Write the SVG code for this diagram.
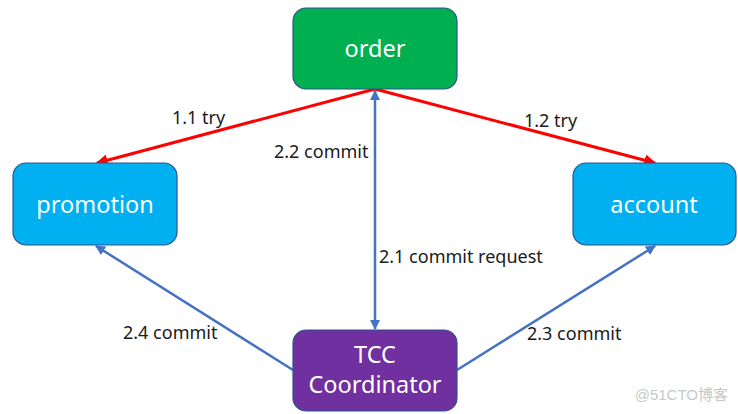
<svg xmlns="http://www.w3.org/2000/svg" width="738" height="414" viewBox="0 0 738 414">
<style>
.box{stroke:#2F528F;stroke-width:1.2}
.nt{font-family:"Noto Sans","Liberation Sans",sans-serif;font-size:23.5px;fill:#fff;text-anchor:middle}
.lb{font-family:"Noto Sans","Liberation Sans",sans-serif;font-size:18px;fill:#1a1a1a}
.red{stroke:#FF0000;stroke-width:3;fill:none}
.blue{stroke:#4472C4;stroke-width:2.5;fill:none}
</style>
<defs>
<marker id="ar" viewBox="0 0 10 10" refX="9" refY="5" markerWidth="4" markerHeight="4" orient="auto-start-reverse" markerUnits="strokeWidth"><path d="M0,0 L10,5 L0,10 z" fill="#FF0000"/></marker>
<marker id="ab" viewBox="0 0 10 10" refX="9" refY="5" markerWidth="4" markerHeight="4" orient="auto-start-reverse" markerUnits="strokeWidth"><path d="M0,0 L10,5 L0,10 z" fill="#4472C4"/></marker>
</defs>
<rect width="738" height="414" fill="#fff"/>
<g id="connectors">
<line class="red" x1="375" y1="89" x2="97" y2="163" marker-end="url(#ar)"/>
<line class="red" x1="375" y1="89" x2="655" y2="163" marker-end="url(#ar)"/>
<line class="blue" x1="375" y1="91" x2="375" y2="329" marker-start="url(#ab)" marker-end="url(#ab)"/>
<line class="blue" x1="293" y1="370" x2="96" y2="246" marker-end="url(#ab)"/>
<line class="blue" x1="457" y1="370" x2="655" y2="246" marker-end="url(#ab)"/>
<text class="lb" x="172" y="124">1.1 try</text>
<text class="lb" x="524" y="127">1.2 try</text>
<text class="lb" x="274" y="158">2.2 commit</text>
<text class="lb" x="379" y="263">2.1 commit request</text>
<text class="lb" x="123" y="339">2.4 commit</text>
<text class="lb" x="527" y="340">2.3 commit</text>
</g>
<g id="order">
<rect class="box" x="293" y="8" width="164" height="81" rx="13" fill="#00B050"/>
<text class="nt" x="375" y="57">order</text>
</g>
<g id="promotion">
<rect class="box" x="13" y="163" width="164" height="82" rx="13" fill="#00B0F0"/>
<text class="nt" x="95" y="213">promotion</text>
</g>
<g id="account">
<rect class="box" x="573" y="163" width="163" height="82" rx="13" fill="#00B0F0"/>
<text class="nt" x="654" y="213">account</text>
</g>
<g id="tcc">
<rect class="box" x="293" y="330" width="164" height="81" rx="13" fill="#7030A0"/>
<text class="nt" x="375" y="363">TCC</text>
<text class="nt" x="375" y="393">Coordinator</text>
</g>
<text x="728" y="400" text-anchor="end" font-family="'Liberation Sans','Noto Sans CJK SC',sans-serif" font-size="15" fill="#c8c8c8">@51CTO博客</text>
</svg>
